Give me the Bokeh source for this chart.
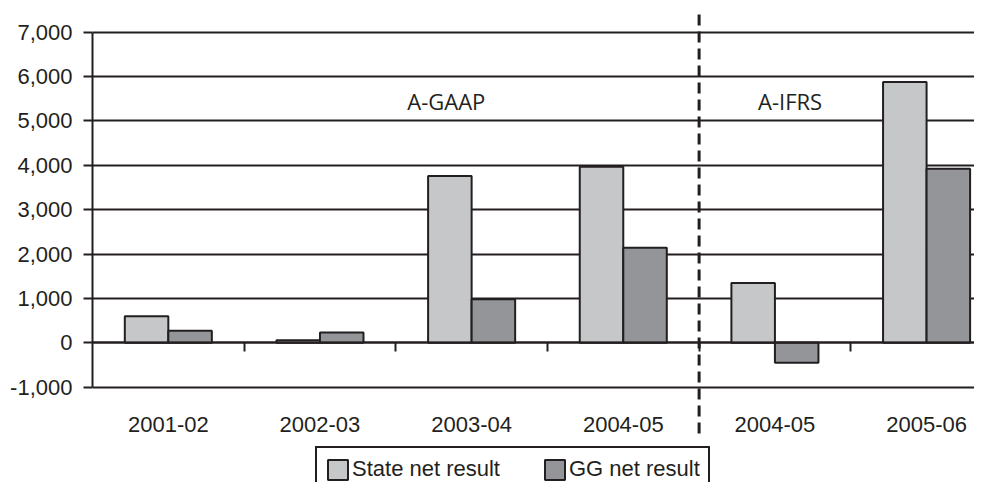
from bokeh.plotting import figure
from bokeh.models import (Range1d, LinearAxis, FixedTicker, NumeralTickFormatter,
                          ColumnDataSource, Legend, LegendItem)
from bokeh.embed import file_html
from bokeh.resources import INLINE
from bokeh.core.properties import value

# ---- data ----
categories = ["2001-02", "2002-03", "2003-04", "2004-05", "2004-05", "2005-06"]
state_net = [600, 60, 3760, 3970, 1350, 5880]
gg_net = [270, 230, 980, 2140, -450, 3920]
y_ticks = [-1000, 0, 1000, 2000, 3000, 4000, 5000, 6000, 7000]
section_labels = ["A-GAAP", "A-IFRS"]

DARK = "#231f20"
LIGHT_FILL = "#c6c7c9"
DARK_FILL = "#939598"
AXIS_FONT = "Liberation Sans"
FS = "22px"

n = len(categories)
centers = [i + 0.5 for i in range(n)]
bw = 0.287
src = ColumnDataSource(dict(
    xs=[c - bw / 2 for c in centers],
    xg=[c + bw / 2 for c in centers],
    state=state_net,
    gg=gg_net,
))

p = figure(width=974, height=482,
           x_range=Range1d(0, 5.816), y_range=Range1d(-3148, 7714),
           output_backend="svg", toolbar_location=None,
           x_axis_location=None, y_axis_location="left",
           min_border_left=92, min_border_right=0, min_border_top=0, min_border_bottom=0,
           outline_line_color=None, background_fill_color="white", border_fill_color="white")

# y axis
yax = p.yaxis[0]
yax.ticker = FixedTicker(ticks=y_ticks)
yax.formatter = NumeralTickFormatter(format="0,0")
yax.bounds = (y_ticks[0], y_ticks[-1])
yax.axis_line_color = DARK
yax.axis_line_width = 2
yax.major_tick_line_color = DARK
yax.major_tick_line_width = 2
yax.major_tick_out = 9
yax.major_tick_in = 0
yax.minor_tick_line_color = None
yax.major_label_standoff = 11
yax.major_label_text_font = AXIS_FONT
yax.major_label_text_font_size = FS
yax.major_label_text_color = DARK

p.ygrid.ticker = FixedTicker(ticks=y_ticks)
p.ygrid.grid_line_color = DARK
p.ygrid.grid_line_width = 2
p.xgrid.visible = False

# zero axis with ticks at category boundaries
zax = LinearAxis(fixed_location=0,
                 ticker=FixedTicker(ticks=[i for i in range(1, n)]),
                 axis_line_color=DARK, axis_line_width=2,
                 major_tick_line_color=DARK, major_tick_line_width=2,
                 major_tick_out=9, major_tick_in=0,
                 minor_tick_line_color=None,
                 major_label_text_color=None)
p.add_layout(zax, "below")

# category label axis at the bottom of the value range
cax = LinearAxis(fixed_location=y_ticks[0],
                 ticker=FixedTicker(ticks=centers),
                 major_label_overrides={c: lab for c, lab in zip(centers, categories)},
                 axis_line_color=None, major_tick_line_color=None, minor_tick_line_color=None,
                 major_label_standoff=24,
                 major_label_text_font=AXIS_FONT, major_label_text_font_size=FS,
                 major_label_text_color=DARK)
p.add_layout(cax, "below")

r1 = p.vbar(x="xs", top="state", bottom=0, width=bw, source=src,
            fill_color=LIGHT_FILL, line_color=DARK, line_width=2)
r2 = p.vbar(x="xg", top="gg", bottom=0, width=bw, source=src,
            fill_color=DARK_FILL, line_color=DARK, line_width=2)

# dashed separator between A-GAAP and A-IFRS
p.segment(x0=[4], y0=[7399], x1=[4], y1=[-2156], line_color=DARK, line_width=3,
          line_dash="11 6")

p.text(x=[2.333, 4.60], y=[5438, 5438], text=section_labels,
       text_font=value("Open Sans"), text_font_size="22px",
       text_align="center", text_baseline="middle", text_color=DARK)

legend = Legend(items=[LegendItem(label="State net result", renderers=[r1]),
                       LegendItem(label="GG net result", renderers=[r2])],
                orientation="horizontal", location=(223, -10),
                glyph_width=25, glyph_height=25, label_standoff=2, spacing=42,
                padding=8, margin=0,
                border_line_color=DARK, border_line_width=2, border_line_alpha=1.0,
                label_text_font=AXIS_FONT, label_text_font_size=FS,
                label_text_color=DARK, background_fill_color="white",
                background_fill_alpha=1.0)
p.add_layout(legend)

open("out.html", "w").write(file_html(p, INLINE))
